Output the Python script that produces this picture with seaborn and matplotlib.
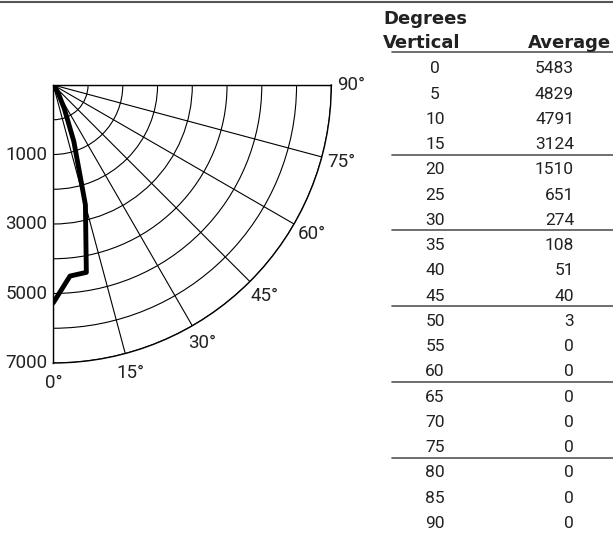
import numpy as np
import pandas as pd
import seaborn as sns
import matplotlib.pyplot as plt
from matplotlib.lines import Line2D

# candela table
degrees = [0, 5, 10, 15, 20, 25, 30, 35, 40, 45, 50, 55, 60, 65, 70, 75, 80, 85, 90]
average = [5483, 4829, 4791, 3124, 1510, 651, 274, 108, 51, 40, 3, 0, 0, 0, 0, 0, 0, 0, 0]

r_max = 7000
ring_count = 8
r_label_text = ["1000", "3000", "5000", "7000"]
angle_ticks = [0, 15, 30, 45, 60, 75, 90]
angle_labels = ["0°", "15°", "30°", "45°", "60°", "75°", "90°"]

df = pd.DataFrame({"deg": degrees, "avg": average})
df["theta"] = np.deg2rad(df["deg"])

sns.set_style("white")
plt.rcParams['font.family'] = ['Roboto', 'DejaVu Sans']

W, H = 613, 533
fig = plt.figure(figsize=(W / 100, H / 100), dpi=100)

def fx(px):
    return px / W

def fy(py):
    return 1 - py / H

# polar quarter: centre at (53,85) px, radius 278 px
cx, cy, rad = 53.3, 85, 278
ax = fig.add_axes([fx(cx), fy(cy + rad), rad / W, rad / H], projection="polar")
ax.set_theta_zero_location("S")
ax.set_theta_direction(1)
ax.set_thetamin(0)
ax.set_thetamax(90)
ax.set_ylim(0, r_max)

rings = np.linspace(0, r_max, ring_count + 1)[1:]
ax.set_rticks(rings)
ax.set_yticklabels([])
ax.set_thetagrids(angle_ticks, labels=[""] * len(angle_ticks))
ax.grid(True, color="black", linewidth=0.8)
for s in ax.spines.values():
    s.set_color("black")
    s.set_linewidth(1.0)
ax.tick_params(length=0)

sns.lineplot(data=df, x="theta", y="avg", ax=ax, sort=False, color="black",
             linewidth=3.5, solid_capstyle="round", solid_joinstyle="round")
ax.set_xlabel("")
ax.set_ylabel("")

# radial labels on every second ring
for i, lbl in enumerate(r_label_text):
    ax.annotate(lbl, xy=(0, rings[2 * i + 1]), xytext=(-6, 0), textcoords="offset pixels",
                ha="right", va="center", fontsize=13.5, color="#222222",
                annotation_clip=False)

for a, lbl in zip(angle_ticks, angle_labels):
    ax.text(np.deg2rad(a), r_max * 1.073, lbl, ha="center", va="center",
            fontsize=13.5, color="#222222", clip_on=False)

# table on the right
fig.add_artist(Line2D([0, 1], [fy(2), fy(2)], color="#555555", linewidth=1.5))
hdr = dict(family="DejaVu Sans", weight="bold", fontsize=13, color="#222222", va="baseline")
fig.text(fx(383), fy(24), "Degrees", ha="left", **hdr)
fig.text(fx(383), fy(48), "Vertical", ha="left", **hdr)
fig.text(fx(611), fy(48), "Average", ha="right", **hdr)
fig.add_artist(Line2D([fx(392), 1], [fy(52), fy(52)], color="#555555", linewidth=1.2))

row0, step = 73.3, 25.26
for i, (d, v) in enumerate(zip(degrees, average)):
    base = row0 + i * step
    fig.text(fx(435), fy(base), str(d), ha="center", va="baseline",
             fontsize=12.5, color="#222222")
    fig.text(fx(574), fy(base), str(v), ha="right", va="baseline",
             fontsize=12.5, color="#222222")
    # rule under every third row (after 15, 30, 45, 60, 75)
    if i % 3 == 0 and 0 < i < len(degrees) - 3:
        yl = base + 5.5
        fig.add_artist(Line2D([fx(392), 1], [fy(yl), fy(yl)], color="#555555", linewidth=1.2))

fig.savefig("out.png", dpi=100)
